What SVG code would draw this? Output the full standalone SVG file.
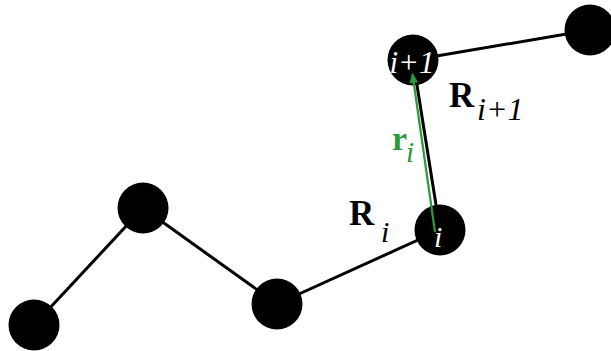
<svg xmlns="http://www.w3.org/2000/svg" width="611" height="351" viewBox="0 0 611 351">
<style>
.bond{stroke:#000;stroke-width:3;fill:none}
.atom{fill:#000}
.t{font-family:"Liberation Serif","Times New Roman",serif}
.it{font-style:italic}
.b{font-weight:bold}
</style>
<defs>
<marker id="ah" viewBox="0 0 10 10" refX="9" refY="5" markerWidth="6.5" markerHeight="4.5" orient="auto" markerUnits="strokeWidth"><path d="M0,0.5 L10,5 L0,9.5 Z" fill="#2a9a3a"/></marker>
</defs>
<rect width="611" height="351" fill="#fff"/>
<g id="connectors">
<line class="bond" x1="34" y1="325" x2="143" y2="208"/>
<line class="bond" x1="143" y1="208" x2="277" y2="304"/>
<line class="bond" x1="277" y1="304" x2="440" y2="230"/>
<line class="bond" x1="440" y1="230" x2="413" y2="60"/>
<line class="bond" x1="413" y1="60" x2="590" y2="30"/>
</g>
<g id="node1"><circle class="atom" cx="34" cy="325" r="25.5"/></g>
<g id="node2"><circle class="atom" cx="143" cy="208" r="25.5"/></g>
<g id="node3"><circle class="atom" cx="277" cy="304" r="25.5"/></g>
<g id="node-i"><circle class="atom" cx="440" cy="230" r="25.5"/></g>
<g id="node-i1"><circle class="atom" cx="413" cy="60" r="25.5"/></g>
<g id="node6"><circle class="atom" cx="590" cy="30" r="25.5"/></g>
<g id="vector">
<line x1="435" y1="232" x2="412.5" y2="74" stroke="#2a9a3a" stroke-width="2.2" marker-end="url(#ah)"/>
</g>
<g id="labels">
<text class="t it" x="434" y="247" font-size="30" fill="#fff">i</text>
<text class="t it" x="412" y="73" font-size="31" fill="#fff" text-anchor="middle">i+1</text>
<text class="t b" x="449" y="107" font-size="35" fill="#000">R</text>
<text class="t it" x="477" y="120" font-size="32" fill="#000">i+1</text>
<text class="t b" x="349" y="225" font-size="35" fill="#000">R</text>
<text class="t it" x="381" y="242" font-size="30" fill="#000">i</text>
<text class="t b" x="392" y="150" font-size="34" fill="#2a9a3a">r</text>
<text class="t it" x="406" y="162" font-size="29" fill="#2a9a3a">i</text>
</g>
</svg>
